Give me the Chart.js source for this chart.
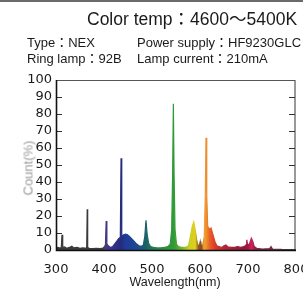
<!DOCTYPE html>
<html>
<head>
<meta charset="utf-8">
<script src="https://cdn.jsdelivr.net/npm/chart.js@4.4.1/dist/chart.umd.min.js"></script>
<style>
    html, body { margin: 0; padding: 0; width: 303px; height: 289px; overflow: hidden; background: #fff; }
    #wrap { position: relative; width: 303px; height: 289px; overflow: hidden; border-top: 2px solid #6a6a6a; box-sizing: border-box; }
    #spectrum { position: absolute; left: 0; top: -2px; }
    .txt { position: absolute; white-space: nowrap; font-family: "Liberation Sans", Arial, "Noto Sans CJK JP", sans-serif; color: #1a1a1a; }
    #title { left: 87px; top: 7px; font-size: 17.5px; line-height: 20px; }
    .info { font-size: 13px; line-height: 16px; }
    #yTitle { left: 28px; top: 166px; font-size: 13px; color: #9a9a9a; transform: translate(-50%, -50%) rotate(-90deg); }
    #xTitle { left: 175px; top: 280px; font-size: 12.5px; line-height: 14px; transform: translate(-50%, -50%); }
</style>
</head>
<body>
<div id="wrap">
    <canvas id="spectrum" width="310" height="289"></canvas>
    <div class="txt" id="title">Color temp：4600～5400K</div>
    <div class="txt info" style="left:27px; top:33px;">Type：NEX</div>
    <div class="txt info" style="left:137px; top:33px;">Power supply：HF9230GLC</div>
    <div class="txt info" style="left:27px; top:49px;">Ring lamp：92B</div>
    <div class="txt info" style="left:137px; top:49px;">Lamp current：210mA</div>
    <div class="txt" id="yTitle">Count(%)</div>
    <div class="txt" id="xTitle">Wavelength(nm)</div>
</div>
<script>
// spectrum (nm, %)
const wavelengths = [300, 304, 308, 311, 312.5, 314, 318, 322, 328, 333, 337, 344, 350, 356, 362, 364, 365, 366, 369, 376, 384, 392, 398,
    401, 403, 404.5, 406, 409, 413, 418, 422, 426, 430, 434, 435.5, 437, 441, 445, 449, 453, 458, 463, 468, 473, 478,
    482, 485, 487.5, 490, 493, 497, 503, 510, 518, 526, 533, 538, 541, 543, 544.5, 546, 548, 551, 555, 562, 570,
    576, 580, 584, 587, 590, 593, 596, 599, 600.5, 602, 606, 609, 611, 612.5, 614, 616, 620, 623, 627, 631, 635,
    640, 645, 650, 654, 658, 665, 672, 678, 685, 692, 696, 697.5, 699, 703, 707, 710, 713, 718, 730, 745, 748, 751, 770, 800];
const counts = [0.8, 1.5, 1.2, 1.5, 9, 1.5, 1.8, 1, 1.5, 2.2, 1.2, 1.5, 1, 1.3, 1, 1.5, 24, 1.5, 1, 0.8, 1, 0.8, 1.2,
    2, 3, 17, 3.5, 2.5, 1.5, 2, 3.5, 5, 6.5, 7.5, 54, 8, 9, 9.3, 9, 8, 6.5, 5, 3.5, 2.5, 2.2,
    3, 8, 17.5, 9, 4, 2, 1.5, 1.2, 1.2, 1.5, 2, 3.5, 12, 45, 86, 45, 12, 3.5, 2, 1.5, 1.5,
    2.5, 8, 14, 16.5, 12, 6, 2.5, 3, 5, 2.5, 3, 8, 32, 66, 32, 14, 12, 13, 9, 5, 2.5,
    2, 1.5, 2.5, 3, 1.8, 1.5, 1.5, 2, 1.5, 2, 3, 6, 3, 3.5, 7, 5, 2, 1, 0.6, 0.8, 2, 0.6, 0.4, 0.3];
const xTicks = [300, 400, 500, 600, 700, 800];
const yTicks = [0, 10, 20, 30, 40, 50, 60, 70, 80, 90, 100];

// colour of the fill along the wavelength axis
const colorStops = [
    [300, '#3a3a3a'], [398, '#3a3a3a'], [402, '#4a3a78'], [415, '#3a3290'], [436, '#262c7a'], [445, '#1f3a9a'],
    [470, '#1e4a8c'], [485, '#1a5e6e'], [495, '#20705a'], [520, '#2b8a40'], [545, '#2f9a3a'], [560, '#6aae30'],
    [578, '#c8d020'], [590, '#e0d020'], [597, '#8a5a20'], [603, '#8a4a18'], [608, '#f0a030'], [613, '#f0902a'],
    [620, '#e86028'], [632, '#d83a28'], [650, '#b02838'], [690, '#901838'], [700, '#a01840'], [707, '#d02060'],
    [715, '#902040'], [800, '#404040']
];

function spectrumColor(context) {
    const chart = context.chart;
    const area = chart.chartArea;
    if (!area) return '#333';
    const x = chart.scales.x;
    const g = chart.ctx.createLinearGradient(area.left, 0, area.right, 0);
    colorStops.forEach(([w, c]) => {
        g.addColorStop((x.getPixelForValue(w) - area.left) / (area.right - area.left), c);
    });
    return g;
}

// box round the plot with small inward ticks
const framePlugin = {
    id: 'frame',
    afterDatasetsDraw(chart) {
        const { ctx, chartArea: a, scales } = chart;
        ctx.save();
        ctx.strokeStyle = '#555';
        ctx.lineWidth = 1.2;
        ctx.beginPath();
        ctx.moveTo(a.left, a.top + 0.5);
        ctx.lineTo(a.right - 1, a.top + 0.5);
        ctx.lineTo(a.right - 1, a.bottom);
        ctx.stroke();

        ctx.strokeStyle = '#333';
        ctx.lineWidth = 1;
        yTicks.slice(1, -1).forEach(v => {
            const y = Math.round(scales.y.getPixelForValue(v)) + 0.5;
            ctx.beginPath();
            ctx.moveTo(a.left, y);
            ctx.lineTo(a.left + 6, y);
            ctx.moveTo(a.right - 1, y);
            ctx.lineTo(a.right - 7, y);
            ctx.stroke();
        });

        ctx.strokeStyle = '#111';
        ctx.lineWidth = 1.6;
        ctx.beginPath();
        ctx.moveTo(a.left + 0.5, a.top);
        ctx.lineTo(a.left + 0.5, a.bottom + 0.5);
        ctx.lineTo(a.right, a.bottom + 0.5);
        ctx.stroke();
        ctx.restore();
    }
};

const points = wavelengths.map((w, i) => ({ x: w, y: counts[i] }));

const spectrumChart = new Chart(document.getElementById('spectrum').getContext('2d'), {
    type: 'line',
    data: {
        datasets: [{
            data: points,
            fill: 'origin',
            backgroundColor: spectrumColor,
            borderColor: spectrumColor,
            borderWidth: 1.2,
            pointRadius: 0,
            tension: 0
        }]
    },
    options: {
        responsive: false,
        animation: false,
        layout: { padding: { top: 80, right: 14, left: 0, bottom: 0 } },
        plugins: {
            legend: { display: false },
            tooltip: { enabled: false }
        },
        scales: {
            x: {
                type: 'linear',
                min: 300,
                max: 800,
                afterBuildTicks: s => { s.ticks = xTicks.map(v => ({ value: v })); },
                afterFit: s => { s.height = 39; s.paddingLeft = 0; s.paddingRight = 0; },
                grid: { display: false, drawTicks: false },
                border: { display: false },
                ticks: { padding: 12, autoSkip: false, maxRotation: 0, color: '#1a1a1a', font: { family: 'DejaVu Sans', size: 13 } }
            },
            y: {
                min: 0,
                max: 100,
                afterBuildTicks: s => { s.ticks = yTicks.map(v => ({ value: v })); },
                afterFit: s => { s.width = 56; s.paddingTop = 0; s.paddingBottom = 0; },
                grid: { display: false, drawTicks: false },
                border: { display: false },
                ticks: { padding: 4, autoSkip: false, color: '#1a1a1a', font: { family: 'DejaVu Sans', size: 13 } }
            }
        }
    },
    plugins: [framePlugin]
});
</script>
</body>
</html>
